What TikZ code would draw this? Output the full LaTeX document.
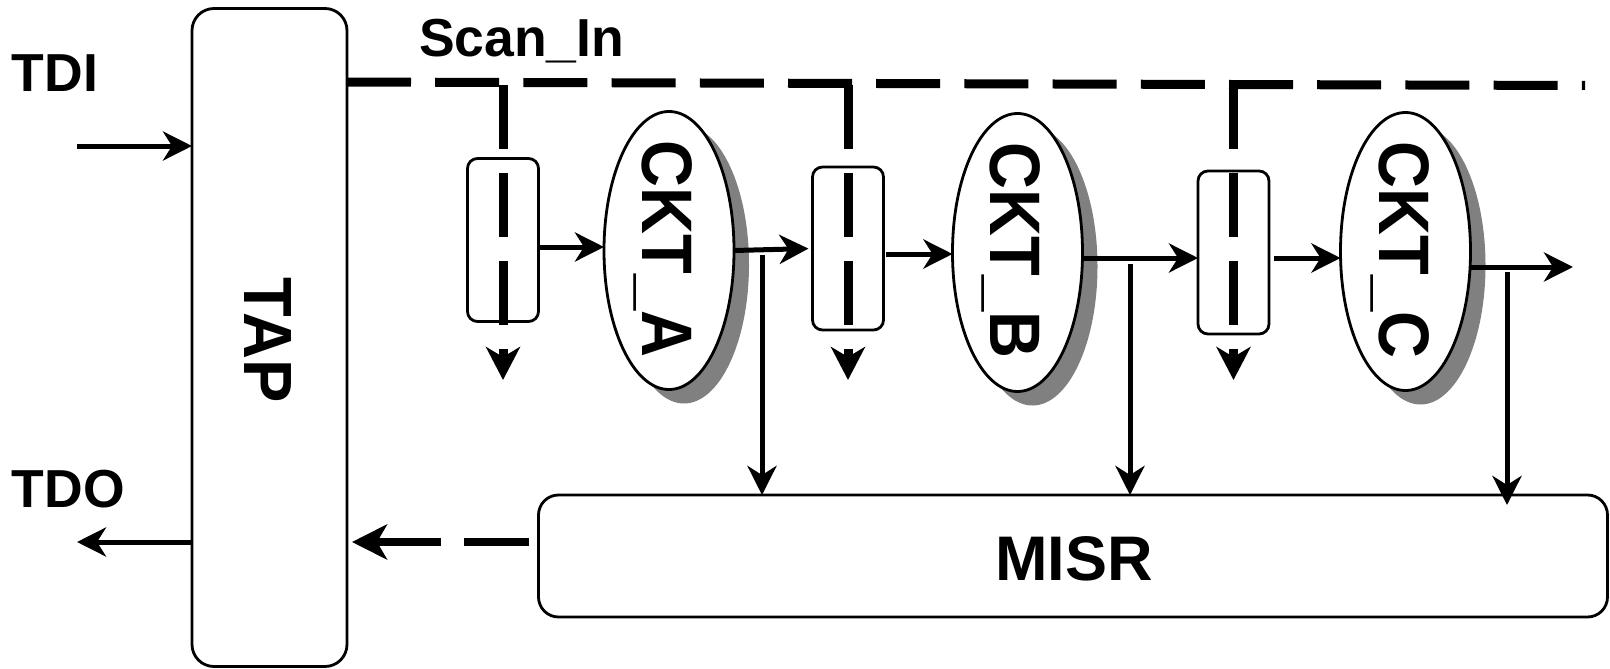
\documentclass[tikz,border=0pt]{standalone}
\usepackage{fontspec}
\setmainfont{Liberation Sans}
\usetikzlibrary{arrows.meta,shapes.geometric,shadows}

\begin{document}
\begin{tikzpicture}[x=1pt,y=-1pt,
  every node/.style={inner sep=0pt, outer sep=0pt},
  frame/.style={draw, line width=2.8pt, rectangle},
  tapbox/.style={frame, rounded corners=22pt, minimum width=155pt, minimum height=658pt},
  cellbox/.style={frame, rounded corners=10pt, minimum width=71pt, minimum height=163pt},
  misrbox/.style={frame, rounded corners=20pt, minimum width=1069pt, minimum height=122pt},
  ckt/.style={ellipse, draw, line width=2.8pt, fill=white,
    minimum width=130pt, minimum height=278pt,
    drop shadow={shadow xshift=15pt, shadow yshift=-14pt, fill=black!50, opacity=1}},
  sig/.style={font=\fontsize{53.5}{62}\selectfont\bfseries},
  biglabel/.style={font=\fontsize{65}{78}\selectfont\bfseries, rotate=-90, text depth=0pt},
  arr/.style={line width=5pt, -{Stealth[length=29pt, width=29pt, inset=9pt]}},
  scan/.style={line width=9pt, dash pattern=on 64pt off 24pt},
  scanarr/.style={scan, -{Stealth[length=33pt, width=34pt, inset=10pt]}},
]
\useasboundingbox (0,0) rectangle (1610,669);

% test access port
\node[tapbox] (tap) at (269.5,337.5) {};
\node[biglabel] (taplbl) at (268,340) {\scalebox{1}[1.05]{TAP}};

% scan cells
\node[cellbox] (c1) at (503,240) {};
\node[cellbox] (c2) at (848,248.5) {};
\node[cellbox] (c3) at (1233.5,252.5) {};

% circuits under test
\node[ckt] (ckA) at (669,250.5) {};
\node[ckt] (ckB) at (1017.5,252.5) {};
\node[ckt] (ckC) at (1405.5,251.5) {};
\node[biglabel] (ckAl) at (667.5,249) {\scalebox{1}[1.1]{CKT\_A}};
\node[biglabel] (ckBl) at (1015.5,250.5) {\scalebox{1}[1.1]{CKT\_B}};
\node[biglabel] (ckCl) at (1404,250) {\scalebox{1}[1.1]{CKT\_C}};

% signature register
\node[misrbox] (misr) at (1073,556) {};
\node[font=\fontsize{63}{75}\selectfont\bfseries, anchor=base] (misrl) at (1074,580) {MISR};

% port names
\node[sig, anchor=base west] (tdi) at (12,92) {TDI};
\node[sig, anchor=base west] (tdo) at (12,507) {TDO};
\node[sig, anchor=base west] (scanin) at (419,57) {Scan\_In};

% TDI / TDO
\coordinate (tdiS) at (77,146);
\draw[arr] (tdiS) -- (tdiS -| tap.west);
\coordinate (tdoE) at (77,542);
\draw[arr] (tdoE -| tap.west) -- (tdoE);

% scan-in chain
\coordinate (sinL) at (347,82);
\coordinate (sinR) at (1585,85.5);
\draw[scan, dash pattern=on 64pt off 24.2pt] (sinL) -- (sinR);
\coordinate (s1) at (503,82.4);
\coordinate (s2) at (848,83.4);
\coordinate (s3) at (1233.5,84.5);
\coordinate (d1) at (503,380);
\coordinate (d2) at (848,380);
\coordinate (d3) at (1233.5,380);
\draw[scanarr, dash phase=85.4pt] (s1) -- (d1);
\draw[scanarr, dash phase=86.4pt] (s2) -- (d2);
\draw[scanarr, dash phase=87.5pt] (s3) -- (d3);

% functional path
\draw[arr] ([yshift=-7pt]c1.east) -- ([yshift=3.5pt]ckA.west);
\draw[arr, shorten >=4pt] (ckA.east) -- (c2.west);
\draw[arr, shorten <=2pt] ([yshift=-5.5pt]c2.east) -- ([yshift=-1.5pt]ckB.west);
\draw[arr] ([yshift=-5.5pt]ckB.east) -- ([yshift=-5.5pt]c3.west);
\draw[arr, shorten <=5pt] ([yshift=-5.5pt]c3.east) -- ([yshift=-6.5pt]ckC.west);
\coordinate (cout) at (1573,267);
\draw[arr] ([yshift=-15.5pt]ckC.east) -- (cout);

% responses into the MISR
\coordinate (vA) at (762,255);
\coordinate (vB) at (1130,264);
\coordinate (vC) at (1507,272);
\draw[arr] (vA) -- (vA |- misr.north);
\draw[arr] (vB) -- (vB |- misr.north);
\draw[arr, shorten >=-10pt] (vC) -- (vC |- misr.north);

% signature back to the TAP
\draw[line width=8.5pt, dash pattern=on 65pt off 23pt, dash phase=78pt,
      -{Stealth[length=35pt, width=35pt, inset=10pt]}, shorten >=5pt]
  (misr.west |- tdoE) -- (tap.east |- tdoE);
\end{tikzpicture}
\end{document}
